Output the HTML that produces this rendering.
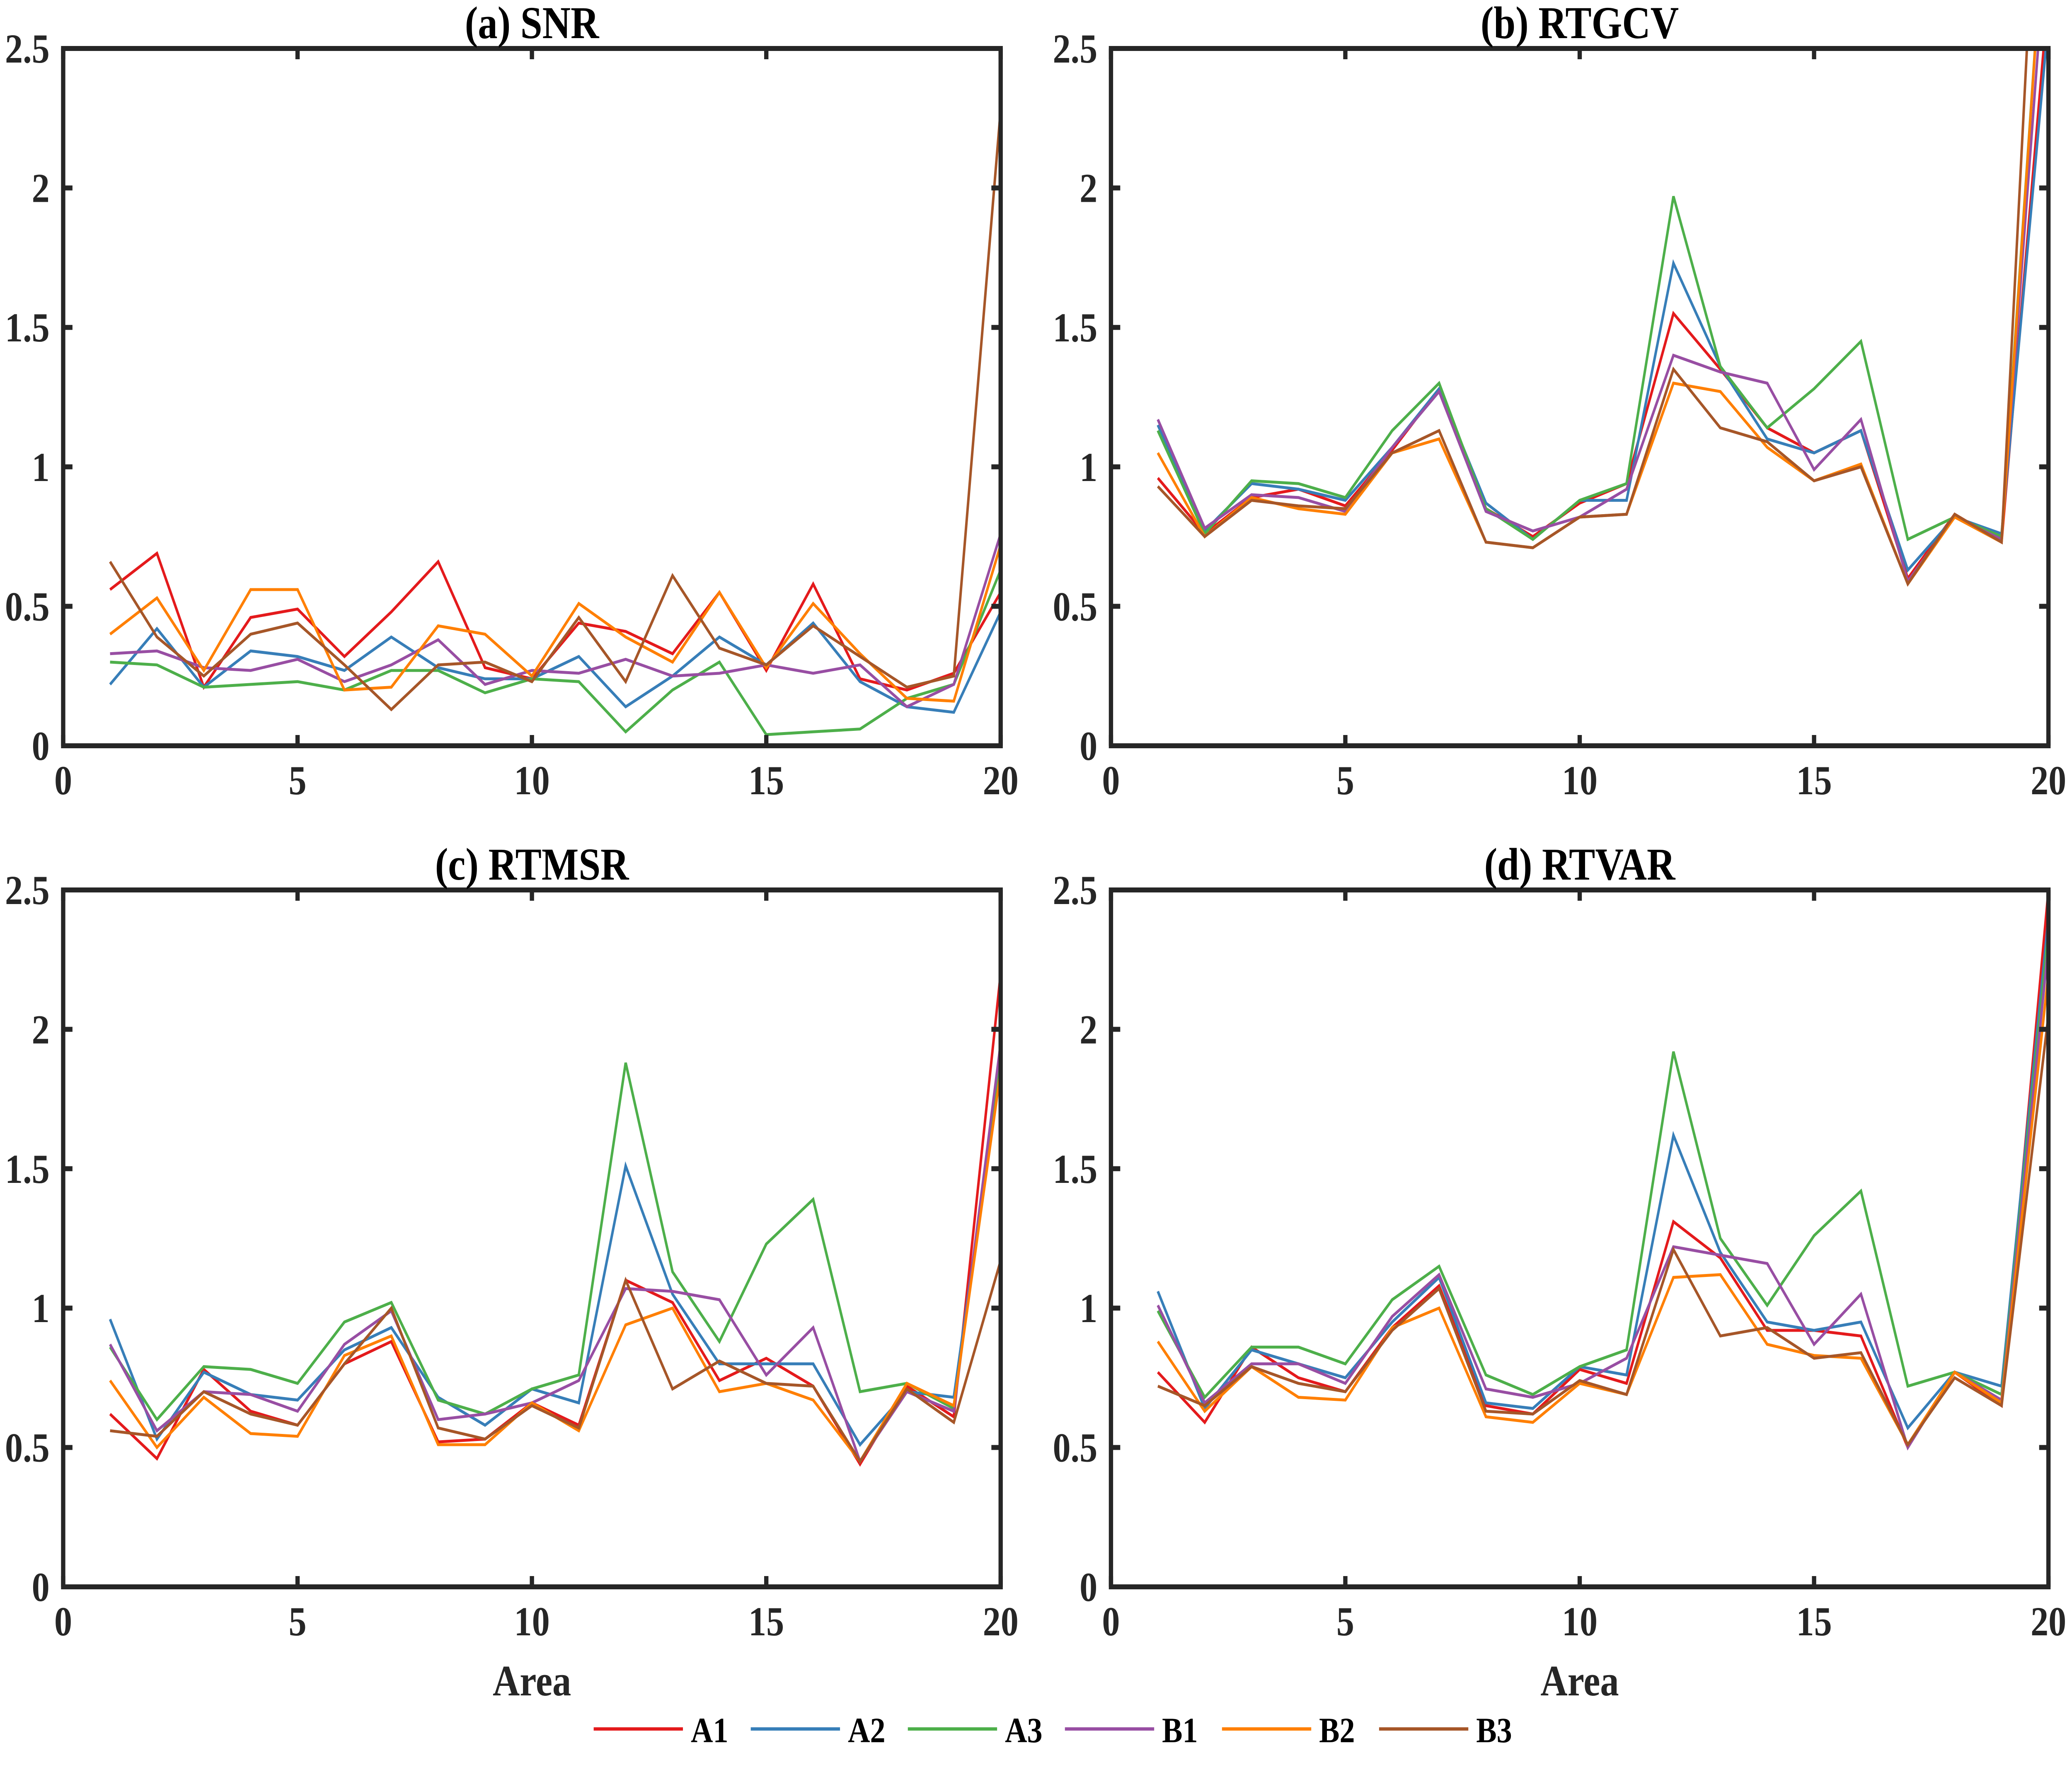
<!DOCTYPE html>
<html><head><meta charset="utf-8">
<style>
html,body{margin:0;padding:0;background:#fff;overflow:hidden;width:100%;height:100%;}
svg{display:block;position:absolute;left:0;top:0;width:100vw;height:100vh;font-family:"Liberation Serif","DejaVu Serif",serif;font-weight:bold;}
</style></head>
<body>
<svg id="chart" viewBox="0 0 5804 4260" preserveAspectRatio="none" xmlns="http://www.w3.org/2000/svg"></svg>
<script>
const seriesNames = ["A1","A2","A3","B1","B2","B3"];
const colors = ["#e41a1c","#377eb8","#4daf4a","#984ea3","#ff7f00","#a65628"];
const areas = [1,2,3,4,5,6,7,8,9,10,11,12,13,14,15,16,17,18,19,20];
const xTicks = [0,5,10,15,20];
const yTicks = [0,0.5,1,1.5,2,2.5];
const yTickLabels = ["0","0.5","1","1.5","2","2.5"];
const panelTitles = ["(a) SNR","(b) RTGCV","(c) RTMSR","(d) RTVAR"];

const snrA1 = [0.56,0.69,0.21,0.46,0.49,0.32,0.48,0.66,0.28,0.24,0.44,0.41,0.33,0.55,0.27,0.58,0.24,0.20,0.26,0.55];
const snrA2 = [0.22,0.42,0.21,0.34,0.32,0.27,0.39,0.28,0.24,0.24,0.32,0.14,0.25,0.39,0.29,0.44,0.23,0.14,0.12,0.48];
const snrA3 = [0.30,0.29,0.21,0.22,0.23,0.20,0.27,0.27,0.19,0.24,0.23,0.05,0.20,0.30,0.04,0.05,0.06,0.17,0.22,0.63];
const snrB1 = [0.33,0.34,0.28,0.27,0.31,0.23,0.29,0.38,0.22,0.27,0.26,0.31,0.25,0.26,0.29,0.26,0.29,0.14,0.22,0.76];
const snrB2 = [0.40,0.53,0.27,0.56,0.56,0.20,0.21,0.43,0.40,0.25,0.51,0.39,0.30,0.55,0.28,0.51,0.33,0.17,0.16,0.72];
const snrB3 = [0.66,0.39,0.25,0.40,0.44,0.29,0.13,0.29,0.30,0.23,0.46,0.23,0.61,0.35,0.29,0.43,0.32,0.21,0.25,2.28];

const gcvA1 = [0.96,0.76,0.89,0.92,0.86,1.06,1.28,0.85,0.75,0.87,0.94,1.55,1.35,1.14,1.05,1.13,0.60,0.83,0.73,2.70];
const gcvA2 = [1.15,0.77,0.94,0.92,0.88,1.07,1.28,0.87,0.74,0.88,0.88,1.73,1.36,1.10,1.05,1.13,0.63,0.82,0.76,2.60];
const gcvA3 = [1.13,0.76,0.95,0.94,0.89,1.13,1.30,0.85,0.74,0.88,0.94,1.97,1.36,1.14,1.28,1.45,0.74,0.82,0.75,3.20];
const gcvB1 = [1.17,0.78,0.90,0.89,0.84,1.07,1.27,0.84,0.77,0.82,0.92,1.40,1.34,1.30,0.99,1.17,0.59,0.82,0.74,3.00];
const gcvB2 = [1.05,0.75,0.89,0.85,0.83,1.05,1.10,0.73,0.71,0.82,0.83,1.30,1.27,1.07,0.95,1.01,0.58,0.82,0.73,3.20];
const gcvB3 = [0.93,0.75,0.88,0.86,0.85,1.05,1.13,0.73,0.71,0.82,0.83,1.35,1.14,1.09,0.95,1.00,0.58,0.83,0.73,4.00];

const msrA1 = [0.62,0.46,0.78,0.63,0.58,0.80,0.88,0.52,0.53,0.66,0.58,1.10,1.02,0.74,0.82,0.72,0.44,0.72,0.61,2.20];
const msrA2 = [0.96,0.53,0.77,0.69,0.67,0.85,0.93,0.68,0.58,0.71,0.66,1.51,1.05,0.80,0.80,0.80,0.51,0.70,0.68,1.88];
const msrA3 = [0.86,0.60,0.79,0.78,0.73,0.95,1.02,0.67,0.62,0.71,0.76,1.88,1.13,0.88,1.23,1.39,0.70,0.73,0.64,1.90];
const msrB1 = [0.87,0.56,0.70,0.69,0.63,0.87,0.99,0.60,0.62,0.66,0.74,1.07,1.06,1.03,0.76,0.93,0.45,0.70,0.63,1.95];
const msrB2 = [0.74,0.50,0.68,0.55,0.54,0.83,0.90,0.51,0.51,0.66,0.56,0.94,1.00,0.70,0.73,0.67,0.45,0.73,0.65,1.85];
const msrB3 = [0.56,0.54,0.70,0.62,0.58,0.80,1.00,0.57,0.53,0.65,0.57,1.10,0.71,0.81,0.73,0.72,0.45,0.71,0.59,1.17];

const varA1 = [0.77,0.59,0.86,0.75,0.70,0.93,1.08,0.65,0.62,0.78,0.73,1.31,1.18,0.92,0.92,0.90,0.50,0.77,0.65,2.50];
const varA2 = [1.06,0.64,0.85,0.80,0.75,0.95,1.11,0.66,0.64,0.79,0.76,1.62,1.20,0.95,0.92,0.95,0.57,0.77,0.72,2.40];
const varA3 = [0.99,0.68,0.86,0.86,0.80,1.03,1.15,0.76,0.69,0.79,0.85,1.92,1.25,1.01,1.26,1.42,0.72,0.77,0.69,2.35];
const varB1 = [1.01,0.66,0.80,0.80,0.73,0.97,1.12,0.71,0.68,0.73,0.82,1.22,1.19,1.16,0.87,1.05,0.50,0.77,0.67,2.30];
const varB2 = [0.88,0.63,0.79,0.68,0.67,0.93,1.00,0.61,0.59,0.73,0.69,1.11,1.12,0.87,0.83,0.82,0.51,0.77,0.66,2.20];
const varB3 = [0.72,0.65,0.79,0.73,0.70,0.92,1.07,0.63,0.62,0.74,0.69,1.21,0.90,0.93,0.82,0.84,0.51,0.75,0.65,2.05];

const panelData = [
  [snrA1,snrA2,snrA3,snrB1,snrB2,snrB3],
  [gcvA1,gcvA2,gcvA3,gcvB1,gcvB2,gcvB3],
  [msrA1,msrA2,msrA3,msrB1,msrB2,msrB3],
  [varA1,varA2,varA3,varB1,varB2,varB3]
];

const NS = "http://www.w3.org/2000/svg";
const svg = document.getElementById("chart");
function mk(tag, attrs, parent){
  const e = document.createElementNS(NS, tag);
  for (const k in attrs) e.setAttribute(k, attrs[k]);
  (parent||svg).appendChild(e);
  return e;
}
const boxes = [
  {x0:177, x1:2803, yTop:117, yBot:1800},
  {x0:3112, x1:5738, yTop:117, yBot:1800},
  {x0:177, x1:2803, yTop:2148, yBot:3830},
  {x0:3112, x1:5738, yTop:2148, yBot:3830}
];
const slugs = ["snr","rtgcv","rtmsr","rtvar"];
boxes.forEach((b, p) => {
  const g = mk("g", {});
  
  
  const xs = v => b.x0 + (v - 0) / 20 * (b.x1 - b.x0);
  const ys = v => b.yBot - (v - 0) / 2.5 * (b.yBot - b.yTop);
  const cid = "clip" + p;
  const cp = mk("clipPath", {id: cid}, g);
  mk("rect", {x:b.x0, y:b.yTop, width:b.x1-b.x0, height:b.yBot-b.yTop}, cp);
  const sg = mk("g", {"clip-path":"url(#"+cid+")"}, g);
  panelData[p].forEach((vals, s) => {
    const pts = areas.map((a,i) => xs(a).toFixed(1) + "," + ys(vals[i]).toFixed(1)).join(" ");
    const pl = mk("polyline", {points:pts, fill:"none", stroke:colors[s], "stroke-width":7, "stroke-linejoin":"miter"}, sg);
    
    
  });
  const tl = 26;
  xTicks.forEach(t => {
    const x = xs(t);
    mk("line", {x1:x, x2:x, y1:b.yBot, y2:b.yBot - tl, stroke:"#262626", "stroke-width":12}, g);
    mk("line", {x1:x, x2:x, y1:b.yTop, y2:b.yTop + tl, stroke:"#262626", "stroke-width":12}, g);
    const tx = mk("text", {x:x, y:b.yBot + 117, "text-anchor":"middle", "font-size":100, fill:"#262626"}, g);
    tx.textContent = String(t);
    
    
  });
  yTicks.forEach((t, i) => {
    const y = ys(t);
    mk("line", {x1:b.x0, x2:b.x0 + tl, y1:y, y2:y, stroke:"#262626", "stroke-width":12}, g);
    mk("line", {x1:b.x1, x2:b.x1 - tl, y1:y, y2:y, stroke:"#262626", "stroke-width":12}, g);
    const ty = mk("text", {x:b.x0 - 38, y:y + 34, "text-anchor":"end", "font-size":100, fill:"#262626"}, g);
    ty.textContent = yTickLabels[i];
    
    
  });
  const box = mk("rect", {x:b.x0, y:b.yTop, width:b.x1-b.x0, height:b.yBot-b.yTop, fill:"none", stroke:"#262626", "stroke-width":12}, g);
  
  
  const title = mk("text", {x:(b.x0+b.x1)/2, y:b.yTop - 25, "text-anchor":"middle", "font-size":110, fill:"#000"}, g);
  title.textContent = panelTitles[p];
  
  
  if (p >= 2) {
    const xl = mk("text", {x:(b.x0+b.x1)/2, y:b.yBot + 262, "text-anchor":"middle", "font-size":105, fill:"#262626"}, g);
    xl.textContent = "Area";
    
    
  }
});
const lg = mk("g", {});


seriesNames.forEach((n, i) => {
  const x = 1663 + i * 440;
  const eg = mk("g", {}, lg);
  
  
  mk("line", {x1:x, x2:x + 250, y1:4173, y2:4173, stroke:colors[i], "stroke-width":8}, eg);
  const t = mk("text", {x:x + 272, y:4205, "font-size":86, fill:"#000"}, eg);
  t.textContent = n;
});
</script>
</body></html>
